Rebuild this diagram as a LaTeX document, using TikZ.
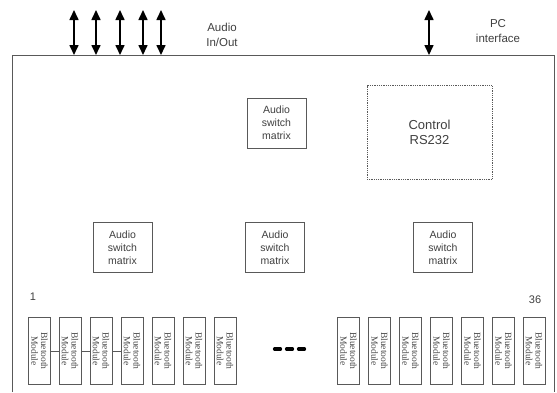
\documentclass[tikz,border=0pt]{standalone}
\usepackage{fontspec}
\setmainfont{Liberation Sans}
\newfontfamily\serifbt{Liberation Serif}
\usetikzlibrary{arrows.meta}
\tikzset{
  box/.style={draw=black!65, line width=0.8pt, minimum width=59pt, minimum height=50pt, align=center, inner sep=0pt, font=\fontsize{10.5}{12.8}\selectfont, text=black!75},
  btmod/.style={draw=black!65, line width=0.8pt, minimum width=22pt, minimum height=67pt, inner sep=0pt, anchor=north west},
  bttext/.style={rotate=-90, align=center, font=\serifbt\fontsize{9.5}{9.8}\selectfont, text=black!70},
  io/.style={{Triangle[length=10pt,width=9pt]}-{Triangle[length=10pt,width=9pt]}, line width=1.6pt, black},
  lbl/.style={align=center, font=\fontsize{11.5}{15}\selectfont, text=black!75},
}
\begin{document}
\begin{tikzpicture}[x=1pt,y=-1pt]
\useasboundingbox (0,0) rectangle (557,392);
\fill[white] (0,0) rectangle (557,392);
% main enclosure (bottom edge outside picture)
\draw[black!65, line width=0.9pt] (12.5,392) -- (12.5,55.5) -- (554.5,55.5) -- (554.5,392);
% arrows
\foreach \n/\x in {a1/74, a2/96, a3/120, a4/143, a5/161, pc/429} {
  \coordinate (\n t) at (\x,10);
  \coordinate (\n b) at (\x,55);
  \draw[io] (\n t) -- (\n b);
}
\node[lbl] (audiolbl) at (222,35) {Audio\\In/Out};
\node[lbl] (pclbl) at (498,31) {PC\\interface};
% boxes
\node[box] (m0) at (276.5,123) {Audio\\switch\\matrix};
\node[draw=black!65, line width=0.8pt, densely dotted, minimum width=125pt, minimum height=94pt, align=center, font=\fontsize{13}{14.5}\selectfont, text=black!75] (ctrl) at (429.5,132.5) {Control\\RS232};
\node[box] (m1) at (122.5,247.5) {Audio\\switch\\matrix};
\node[box] (m2) at (275,247.5) {Audio\\switch\\matrix};
\node[box] (m3) at (443,247.5) {Audio\\switch\\matrix};
% numbers
\node[font=\fontsize{11}{12}\selectfont, text=black!75] (n1) at (33,297) {1};
\node[font=\fontsize{11}{12}\selectfont, text=black!75] (n36) at (535,300) {36};
% bluetooth modules
\foreach \i/\x in {1/28, 2/58.5, 3/89.5, 4/120.5, 5/151.5, 6/182.5, 7/213.5, 8/337, 9/368, 10/399, 11/430, 12/461, 13/492, 14/522.5} {
  \node[btmod] (bt\i) at (\x,317) {};
  \node[bttext] (btt\i) at (bt\i.center) {Bluetooth\\Module};
}
\draw[black!65, line width=0.8pt] (bt1.east) -- (bt2.west);
\draw[black!65, line width=0.8pt] (bt2.east) -- (bt3.west);
\draw[black!65, line width=0.8pt] (bt3.east) -- (bt4.west);
% ellipsis dashes
\foreach \x in {273, 285, 297} {
  \draw[black, line width=3.2pt, line cap=round] (\x+1.5,349) -- (\x+7.5,349);
}
\end{tikzpicture}
\end{document}
